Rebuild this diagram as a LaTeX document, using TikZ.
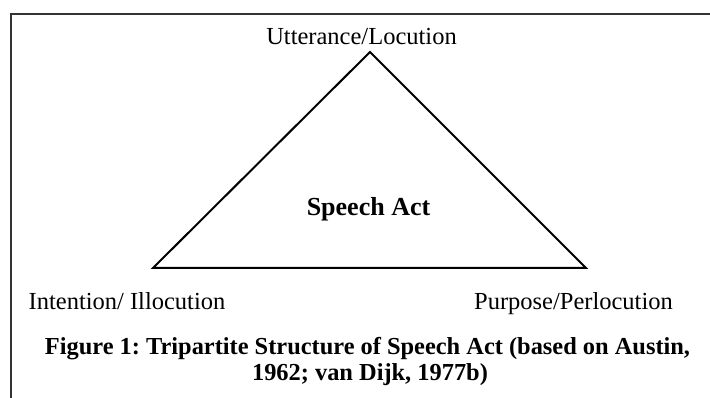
\documentclass[tikz,border=0pt]{standalone}
\usepackage{fontspec}
\setmainfont{Liberation Serif}
\frenchspacing
\begin{document}
\begin{tikzpicture}[x=1pt,y=-1pt,
  lbl/.style={font=\fontsize{24.5}{28}\selectfont, inner sep=0pt, anchor=base},
  captxt/.style={font=\bfseries\fontsize{24.4}{28}\selectfont, inner sep=0pt, anchor=base},
  centretxt/.style={font=\bfseries\fontsize{26}{30}\selectfont, inner sep=0pt, anchor=base},
  tri/.style={draw=black, line width=2pt, line join=miter}]
\useasboundingbox (0,0) rectangle (710,398);
\draw[line width=2pt, draw=black!80] (10.5,398) -- (10.5,14.5) -- (712,14.5);
\coordinate (A) at (370,52);
\coordinate (B) at (153,268);
\coordinate (C) at (586,268);
\draw[tri] (A) -- (B) -- (C) -- cycle;
\node[lbl] (ut) at (361.5,45) {Utterance/Locution};
\node[lbl] (il) at (127,309) {Intention/ Illocution};
\node[lbl] (pl) at (573.5,309) {Purpose/Perlocution};
\node[centretxt] (sa) at (368.5,216) {Speech Act};
\node[captxt] (c1) at (367.5,354) {Figure 1: Tripartite Structure of Speech Act (based on Austin,};
\node[captxt] (c2) at (370,380) {1962; van Dijk, 1977b)};
\end{tikzpicture}
\end{document}
